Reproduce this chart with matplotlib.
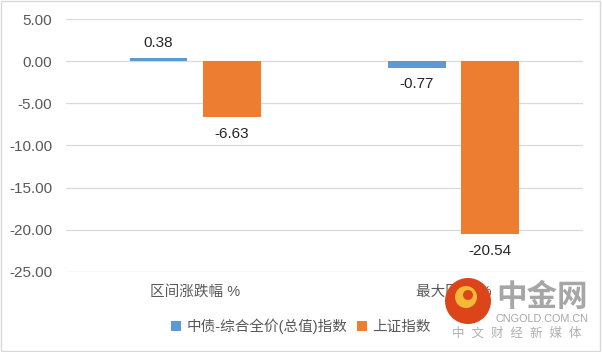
import numpy as np
import matplotlib as mpl
import matplotlib.pyplot as plt
from matplotlib.patches import Rectangle, Ellipse

mpl.use("Agg")
plt.rcParams["font.family"] = ["Liberation Sans", "Noto Sans CJK SC", "DejaVu Sans"]

categories = ["区间涨跌幅 %", "最大回撤 %"]
series_names = ["中债-综合全价(总值)指数", "上证指数"]
bond_values = [0.38, -0.77]
sh_values = [-6.63, -20.54]
colors = ["#5b9bd5", "#ed7d31"]

W, H = 602, 352
fig = plt.figure(figsize=(W / 100, H / 100), dpi=100)
ax = fig.add_axes([0.1096, 0.2273, 0.8588, 0.7187])

x = np.arange(len(categories))
width = 0.224
offset = (width + 0.06) / 2
b1 = ax.bar(x - offset, bond_values, width, color=colors[0], label=series_names[0], zorder=3)
b2 = ax.bar(x + offset, sh_values, width, color=colors[1], label=series_names[1], zorder=3)

for bars in (b1, b2):
    for rect in bars:
        v = rect.get_height()
        cx = rect.get_x() + rect.get_width() / 2
        if v >= 0:
            ax.annotate(f"{v:.2f}", (cx, v), xytext=(0, 6), textcoords="offset points",
                        ha="center", va="bottom", fontsize=11, color="#262626")
        else:
            ax.annotate(f"{v:.2f}", (cx, v), xytext=(0, -7), textcoords="offset points",
                        ha="center", va="top", fontsize=11, color="#262626")

ax.set_xlim(-0.5, 1.5)
ax.set_ylim(-25, 5)
ax.set_yticks(np.arange(-25, 6, 5))
ax.set_yticklabels([f"{t:.2f}" for t in np.arange(-25, 6, 5)])
ax.set_xticks(x)
ax.set_xticklabels(categories)
ax.tick_params(axis="both", length=0, labelsize=11, labelcolor="#595959")
ax.tick_params(axis="x", labelsize=10.5, pad=9)
ax.tick_params(axis="y", pad=10)
ax.grid(axis="y", color="#d9d9d9", linewidth=0.9, zorder=0)
for s in ax.spines.values():
    s.set_visible(False)

leg = fig.legend(loc="center", bbox_to_anchor=(0.5, 0.073), ncol=2, frameon=False,
                 fontsize=10.5, handlelength=0.7, handleheight=0.7, handletextpad=0.4,
                 columnspacing=0.6)
for t in leg.get_texts():
    t.set_color("#595959")

# watermark
fig.patches.append(Ellipse((468 / W, 1 - 301 / H), 46 / W, 46 / H, transform=fig.transFigure,
                           facecolor="#dc4419", edgecolor="none", zorder=5))
fig.patches.append(Ellipse((466 / W, 1 - 297 / H), 22 / W, 22 / H, transform=fig.transFigure,
                           facecolor="#f5b93a", edgecolor="none", zorder=6))
fig.patches.append(Ellipse((468 / W, 1 - 295 / H), 10 / W, 10 / H, transform=fig.transFigure,
                           facecolor="#dc4419", edgecolor="none", zorder=7))
fig.text(542 / W, 1 - 298 / H, "中金网", ha="center", va="center", fontsize=22, color="#a6a6a6",
         fontweight="bold", zorder=6)
fig.text(542 / W, 1 - 319 / H, "CNGOLD.COM.CN", ha="center", va="center", fontsize=7.8,
         color="#a6a6a6", zorder=6)
fig.text(517 / W, 1 - 334 / H, "中  文  财  经  新  媒  体", ha="center", va="center", fontsize=9,
         color="#b0b0b0", zorder=6)

fig.patches.append(Rectangle((0.002, 0.003), 0.995, 0.994, transform=fig.transFigure,
                             fill=False, edgecolor="#d9d9d9", linewidth=1))

plt.savefig("out.png", dpi=100)
plt.close()
